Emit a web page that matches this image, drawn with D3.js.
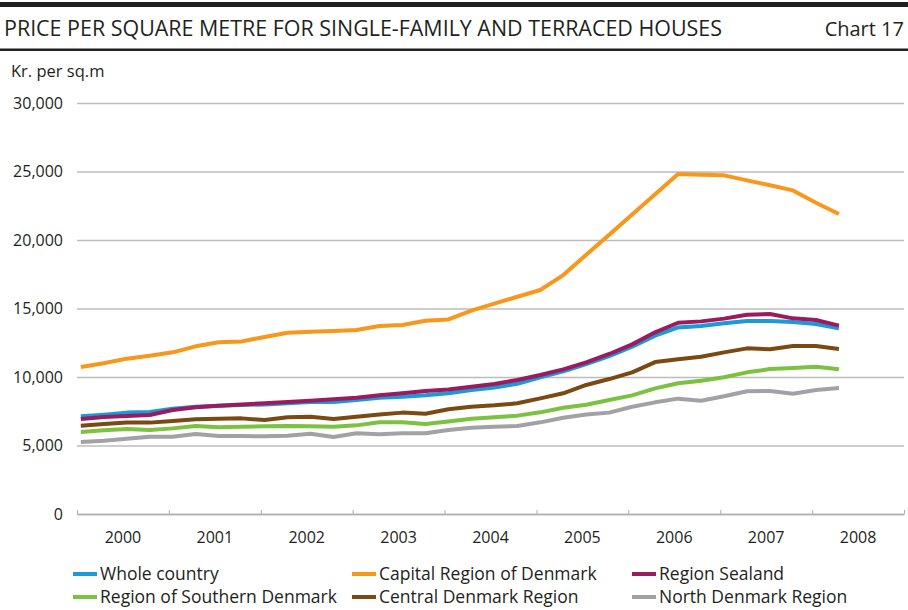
<!DOCTYPE html>
<html>
<head>
<meta charset="utf-8">
<script src="https://cdn.jsdelivr.net/npm/d3@7"></script>
<style>
  body { margin: 0; background: #fff; }
  svg { display: block; font-family: "Open Sans", sans-serif; }
</style>
</head>
<body>
<svg id="chart" width="908" height="610"></svg>
<script>
// quarterly periods, 2000Q1 - 2008Q2
const periods = [
  '2000Q1', '2000Q2', '2000Q3', '2000Q4', '2001Q1', '2001Q2', '2001Q3', '2001Q4',
  '2002Q1', '2002Q2', '2002Q3', '2002Q4', '2003Q1', '2003Q2', '2003Q3', '2003Q4',
  '2004Q1', '2004Q2', '2004Q3', '2004Q4', '2005Q1', '2005Q2', '2005Q3', '2005Q4',
  '2006Q1', '2006Q2', '2006Q3', '2006Q4', '2007Q1', '2007Q2', '2007Q3', '2007Q4',
  '2008Q1', '2008Q2'
];

const years = ['2000', '2001', '2002', '2003', '2004', '2005', '2006', '2007', '2008'];
const yTicks = [0, 5000, 10000, 15000, 20000, 25000, 30000];

const wholeCountry = [
  7130, 7250, 7400, 7445, 7690, 7830, 7910, 7960, 8000, 8080, 8180, 8180,
  8320, 8490, 8560, 8660, 8810, 9050, 9240, 9510, 9980, 10410, 10950, 11530,
  12210, 13020, 13620, 13720, 13920, 14090, 14090, 14010, 13870, 13550
];
const capitalRegion = [
  10730, 11000, 11340, 11550, 11800, 12240, 12530, 12600, 12920, 13230, 13310, 13360,
  13430, 13720, 13800, 14110, 14200, 14840, 15350, 15860, 16350, 17440, 18920, 20390,
  21870, 23340, 24820, 24770, 24720, 24350, 24000, 23620, 22720, 21900
];
const regionSealand = [
  6930, 7080, 7150, 7230, 7590, 7790, 7910, 8000, 8080, 8180, 8270, 8370,
  8490, 8660, 8810, 8980, 9080, 9290, 9490, 9780, 10150, 10560, 11070, 11680,
  12380, 13260, 13960, 14060, 14260, 14550, 14600, 14280, 14160, 13750
];
const southernDenmark = [
  5990, 6110, 6200, 6130, 6250, 6420, 6330, 6370, 6400, 6420, 6400, 6370,
  6470, 6690, 6690, 6570, 6760, 6960, 7060, 7180, 7420, 7760, 7980, 8320,
  8660, 9170, 9540, 9730, 9980, 10340, 10580, 10660, 10750, 10560
];
const centralDenmark = [
  6450, 6570, 6670, 6670, 6790, 6910, 6960, 6980, 6860, 7060, 7100, 6930,
  7100, 7270, 7400, 7320, 7640, 7830, 7930, 8080, 8440, 8810, 9420, 9850,
  10340, 11090, 11290, 11480, 11800, 12090, 12020, 12260, 12260, 12040
];
const northDenmark = [
  5260, 5350, 5500, 5640, 5640, 5840, 5690, 5690, 5670, 5720, 5860, 5620,
  5890, 5820, 5890, 5890, 6130, 6300, 6370, 6420, 6690, 7030, 7270, 7400,
  7830, 8150, 8420, 8270, 8590, 8960, 8980, 8780, 9050, 9200
];

const seriesNames = [
  'Whole country', 'Capital Region of Denmark', 'Region Sealand',
  'Region of Southern Denmark', 'Central Denmark Region', 'North Denmark Region'
];
const seriesColors = ['#1a9ad7', '#f7981d', '#9b1b5f', '#7cc142', '#7a4a12', '#a2a2a6'];
const seriesValues = [wholeCountry, capitalRegion, regionSealand, southernDenmark, centralDenmark, northDenmark];

const svg = d3.select('#chart');

const plot = { left: 77, right: 904, top: 103, bottom: 514 };

// header
svg.append('rect')
  .attr('x', 0).attr('y', 2)
  .attr('width', 908).attr('height', 5)
  .attr('fill', '#231f20');

svg.append('rect')
  .attr('x', 0).attr('y', 48.5)
  .attr('width', 908).attr('height', 2.5)
  .attr('fill', '#231f20');

svg.append('text')
  .attr('x', 4).attr('y', 36)
  .attr('font-size', 22)
  .attr('fill', '#231f20')
  .attr('textLength', 718)
  .attr('lengthAdjust', 'spacingAndGlyphs')
  .text('PRICE PER SQUARE METRE FOR SINGLE-FAMILY AND TERRACED HOUSES');

svg.append('text')
  .attr('x', 904).attr('y', 36)
  .attr('text-anchor', 'end')
  .attr('font-size', 20)
  .attr('fill', '#231f20')
  .text('Chart 17');

svg.append('text')
  .attr('x', 11).attr('y', 77)
  .attr('font-size', 16.5)
  .attr('fill', '#231f20')
  .text('Kr. per sq.m');

// scales
const x = d3.scaleLinear()
  .domain([2000, 2009])
  .range([plot.left, plot.right]);

const y = d3.scaleLinear()
  .domain([0, 30000])
  .range([plot.bottom, plot.top]);

// points sit half a month into each quarter
const periodTime = p => +p.slice(0, 4) + (+p.slice(5) - 1) / 4 + 1 / 24;

// y axis with gridlines
const yAxis = svg.append('g')
  .attr('transform', `translate(${plot.left},0)`)
  .call(d3.axisLeft(y)
    .tickValues(yTicks)
    .tickFormat(d3.format(','))
    .tickSize(-(plot.right - plot.left))
    .tickPadding(14));

yAxis.select('.domain').remove();
yAxis.selectAll('line')
  .attr('stroke', '#bdbdbd')
  .attr('stroke-width', 1.5);
yAxis.selectAll('text')
  .attr('font-size', 16)
  .attr('font-family', '"Open Sans", sans-serif')
  .attr('fill', '#231f20');

// x axis
const xAxis = svg.append('g')
  .attr('transform', `translate(0,${plot.bottom})`)
  .call(d3.axisBottom(x)
    .tickValues(d3.range(2000, 2010))
    .tickFormat('')
    .tickSizeInner(-4)
    .tickSizeOuter(0));

xAxis.select('.domain')
  .attr('stroke', '#b0b0b0')
  .attr('stroke-width', 1.5);
xAxis.selectAll('line')
  .attr('stroke', '#b0b0b0')
  .attr('stroke-width', 1);

svg.append('g')
  .selectAll('text')
  .data(years)
  .enter().append('text')
  .attr('x', d => x(+d + 0.5))
  .attr('y', 543)
  .attr('text-anchor', 'middle')
  .attr('font-size', 16)
  .attr('fill', '#231f20')
  .text(d => d);

// lines
const line = d3.line()
  .x((d, i) => x(periodTime(periods[i])))
  .y(d => y(d));

// back to front: north, southern, central, whole country, sealand, capital
const drawOrder = [5, 3, 4, 0, 2, 1];

svg.append('g')
  .selectAll('path')
  .data(drawOrder)
  .enter().append('path')
  .attr('d', i => line(seriesValues[i]))
  .attr('fill', 'none')
  .attr('stroke', i => seriesColors[i])
  .attr('stroke-width', 4)
  .attr('stroke-linejoin', 'round');

// legend
const legendCols = [73, 352, 632];
const legendRows = [574, 597];

const legend = svg.append('g')
  .selectAll('g')
  .data(seriesNames)
  .enter().append('g')
  .attr('transform', (d, i) => `translate(${legendCols[i % 3]},${legendRows[Math.floor(i / 3)]})`);

legend.append('line')
  .attr('x1', 0).attr('x2', 24)
  .attr('stroke', (d, i) => seriesColors[i])
  .attr('stroke-width', 4);

legend.append('text')
  .attr('x', 27)
  .attr('y', 6)
  .attr('font-size', 17.5)
  .attr('fill', '#231f20')
  .text(d => d);
</script>
</body>
</html>
